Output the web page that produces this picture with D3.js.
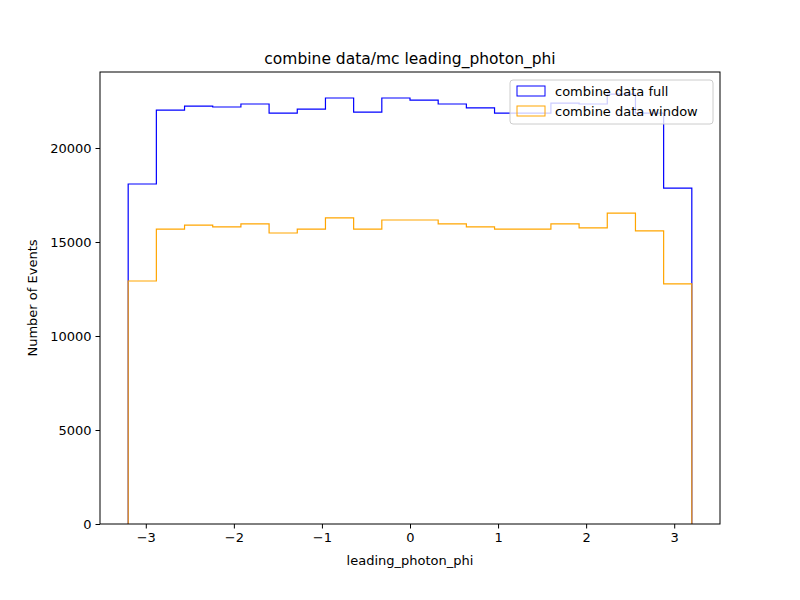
<!DOCTYPE html>
<meta charset="utf-8">
<script src="https://d3js.org/d3.v7.min.js"></script>
<body style="margin:0">
<div id="chart"></div>
<script>
// bin edges: 20 bins from -3.2 to 3.2
var binEdges = [-3.2, -2.88, -2.56, -2.24, -1.92, -1.6, -1.28, -0.96, -0.64, -0.32, 0,
    0.32, 0.64, 0.96, 1.28, 1.6, 1.92, 2.24, 2.56, 2.88, 3.2];
var fullCounts = [18085, 22020, 22230, 22180, 22340, 21860, 22070, 22660, 21910, 22660,
    22550, 22340, 22130, 21860, 21860, 22390, 22340, 22870, 21860, 17870];
var windowCounts = [12925, 15690, 15900, 15800, 15960, 15480, 15690, 16280, 15690, 16170,
    16170, 15960, 15800, 15690, 15690, 15960, 15750, 16540, 15590, 12770];
var xTicks = [-3, -2, -1, 0, 1, 2, 3];
var yTicks = [0, 5000, 10000, 15000, 20000];

var W = 800, H = 600;
var margin = {top: 72, right: 80, bottom: 76, left: 100};
var width = W - margin.left - margin.right,
    height = H - margin.top - margin.bottom;

var svg = d3.select("#chart").append("svg")
    .attr("width", W).attr("height", H)
    .style("font-family", "DejaVu Sans");

var g = svg.append("g")
    .attr("transform", "translate(" + margin.left + "," + margin.top + ")");

var x = d3.scaleLinear().domain([-3.52, 3.52]).range([0, width]);
var y = d3.scaleLinear().domain([0, 24043]).range([height, 0]);

function stepPath(counts) {
    var pts = [[binEdges[0], 0]];
    counts.forEach(function(c, i) {
        pts.push([binEdges[i], c]);
        pts.push([binEdges[i + 1], c]);
    });
    pts.push([binEdges[binEdges.length - 1], 0]);
    return d3.line().x(function(d) { return x(d[0]); }).y(function(d) { return y(d[1]); })(pts);
}

g.append("path").attr("d", stepPath(fullCounts))
    .attr("fill", "none").attr("stroke", "blue").attr("stroke-width", 1.2);
g.append("path").attr("d", stepPath(windowCounts))
    .attr("fill", "none").attr("stroke", "orange").attr("stroke-width", 1.2);

var xAxis = g.append("g").attr("transform", "translate(0," + height + ")")
    .call(d3.axisBottom(x).tickValues(xTicks).tickSize(4.5).tickPadding(4)
        .tickFormat(function(d) { return d < 0 ? "\u2212" + Math.abs(d) : d; }));
var yAxis = g.append("g")
    .call(d3.axisLeft(y).tickValues(yTicks).tickSize(4.5).tickPadding(4).tickFormat(d3.format("d")));
[xAxis, yAxis].forEach(function(a) {
    a.selectAll("text").attr("font-size", 13).attr("fill", "black").style("font-family", "DejaVu Sans");
    a.select(".domain").remove();
});

g.append("rect").attr("width", width).attr("height", height)
    .attr("fill", "none").attr("stroke", "black").attr("stroke-width", 1);

svg.append("text").attr("x", margin.left + width / 2).attr("y", 64)
    .attr("text-anchor", "middle").attr("font-size", 15.5).text("combine data/mc leading_photon_phi");
svg.append("text").attr("x", margin.left + width / 2).attr("y", 565)
    .attr("text-anchor", "middle").attr("font-size", 13).text("leading_photon_phi");
svg.append("text").attr("transform", "translate(37," + (margin.top + height / 2) + ") rotate(-90)")
    .attr("text-anchor", "middle").attr("font-size", 13).text("Number of Events");

// legend
var leg = svg.append("g").attr("transform", "translate(510,80)");
leg.append("rect").attr("width", 203).attr("height", 44).attr("rx", 3)
    .attr("fill", "white").attr("fill-opacity", 0.8).attr("stroke", "#ccc");
[["combine data full", "blue"], ["combine data window", "orange"]].forEach(function(d, i) {
    leg.append("rect").attr("x", 7).attr("y", 6 + i * 20).attr("width", 28).attr("height", 10)
        .attr("fill", "none").attr("stroke", d[1]);
    leg.append("text").attr("x", 45).attr("y", 16 + i * 20).attr("font-size", 13).text(d[0]);
});
</script>
</body>
